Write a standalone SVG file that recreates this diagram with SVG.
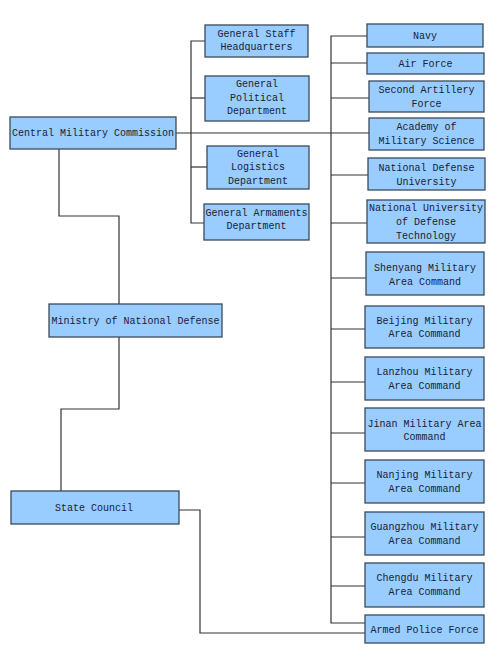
<svg xmlns="http://www.w3.org/2000/svg" width="500" height="661" viewBox="0 0 500 661">
<style>
.box{fill:#99ccff;stroke:#3a4a5a;stroke-width:1.3}
.t{font-family:"Liberation Mono","DejaVu Sans Mono",monospace;font-size:10px;fill:#1a2233;text-anchor:middle;dominant-baseline:central}
.c{fill:none;stroke:#333;stroke-width:1.2}
</style>
<rect width="500" height="661" fill="#fff"/>
<g id="connectors">
<path class="c" d="M176,133 H369"/>
<path class="c" d="M59,149 V216 H119 V304"/>
<path class="c" d="M119,337 V409 H61 V491"/>
<path class="c" d="M179,510 H200 V633 H367"/>
<path class="c" d="M205,41 H191 V223 H204"/>
<path class="c" d="M191,98 H205"/>
<path class="c" d="M191,167 H207"/>
<path class="c" d="M367,36 H331 V623 H367"/>
<path class="c" d="M331,63 H367"/>
<path class="c" d="M331,98 H369"/>
<path class="c" d="M331,175 H368"/>
<path class="c" d="M331,223 H367"/>
<path class="c" d="M331,278 H366"/>
<path class="c" d="M331,329 H365"/>
<path class="c" d="M331,382 H365"/>
<path class="c" d="M331,433 H365"/>
<path class="c" d="M331,483 H365"/>
<path class="c" d="M331,537 H365"/>
<path class="c" d="M331,586 H365"/>
</g>
<g id="cmc"><rect class="box" x="10" y="117" width="166" height="32"/><text class="t" x="93" y="133">Central Military Commission</text></g>
<g id="mnd"><rect class="box" x="49" y="304" width="173" height="33"/><text class="t" x="135.5" y="321">Ministry of National Defense</text></g>
<g id="sc"><rect class="box" x="11" y="491" width="168" height="33"/><text class="t" x="94" y="508">State Council</text></g>
<g id="gsh"><rect class="box" x="205" y="25" width="103" height="32"/><text class="t" x="256.5" y="34">General Staff</text><text class="t" x="256.5" y="47">Headquarters</text></g>
<g id="gpd"><rect class="box" x="205" y="76" width="104" height="45"/><text class="t" x="257" y="84">General</text><text class="t" x="257" y="98">Political</text><text class="t" x="257" y="111">Department</text></g>
<g id="gld"><rect class="box" x="207" y="146" width="102" height="43"/><text class="t" x="258" y="154">General</text><text class="t" x="258" y="167">Logistics</text><text class="t" x="258" y="181">Department</text></g>
<g id="gad"><rect class="box" x="204" y="204" width="105" height="36"/><text class="t" x="256.5" y="213">General Armaments</text><text class="t" x="256.5" y="226">Department</text></g>
<g id="navy"><rect class="box" x="367" y="24" width="116" height="23"/><text class="t" x="425" y="36">Navy</text></g>
<g id="airforce"><rect class="box" x="367" y="53" width="117" height="21"/><text class="t" x="425.5" y="64">Air Force</text></g>
<g id="saf"><rect class="box" x="369" y="81" width="115" height="31"/><text class="t" x="426.5" y="90">Second Artillery</text><text class="t" x="426.5" y="104">Force</text></g>
<g id="ams"><rect class="box" x="369" y="118" width="115" height="32"/><text class="t" x="426.5" y="127">Academy of</text><text class="t" x="426.5" y="141">Military Science</text></g>
<g id="ndu"><rect class="box" x="368" y="158" width="117" height="32"/><text class="t" x="426.5" y="168">National Defense</text><text class="t" x="426.5" y="182">University</text></g>
<g id="nudt"><rect class="box" x="367" y="200" width="118" height="43"/><text class="t" x="426" y="208">National University</text><text class="t" x="426" y="222">of Defense</text><text class="t" x="426" y="236">Technology</text></g>
<g id="shenyang"><rect class="box" x="366" y="252" width="118" height="43"/><text class="t" x="425" y="268">Shenyang Military</text><text class="t" x="425" y="282">Area Command</text></g>
<g id="beijing"><rect class="box" x="365" y="306" width="119" height="42"/><text class="t" x="424.5" y="321">Beijing Military</text><text class="t" x="424.5" y="334">Area Command</text></g>
<g id="lanzhou"><rect class="box" x="365" y="357" width="119" height="43"/><text class="t" x="424.5" y="372">Lanzhou Military</text><text class="t" x="424.5" y="386">Area Command</text></g>
<g id="jinan"><rect class="box" x="365" y="408" width="119" height="43"/><text class="t" x="424.5" y="424">Jinan Military Area</text><text class="t" x="424.5" y="437">Command</text></g>
<g id="nanjing"><rect class="box" x="365" y="460" width="119" height="43"/><text class="t" x="424.5" y="475">Nanjing Military</text><text class="t" x="424.5" y="489">Area Command</text></g>
<g id="guangzhou"><rect class="box" x="365" y="512" width="119" height="43"/><text class="t" x="424.5" y="527">Guangzhou Military</text><text class="t" x="424.5" y="541">Area Command</text></g>
<g id="chengdu"><rect class="box" x="365" y="563" width="119" height="44"/><text class="t" x="424.5" y="578">Chengdu Military</text><text class="t" x="424.5" y="592">Area Command</text></g>
<g id="apf"><rect class="box" x="365" y="615" width="119" height="28"/><text class="t" x="424.5" y="630">Armed Police Force</text></g>
</svg>
